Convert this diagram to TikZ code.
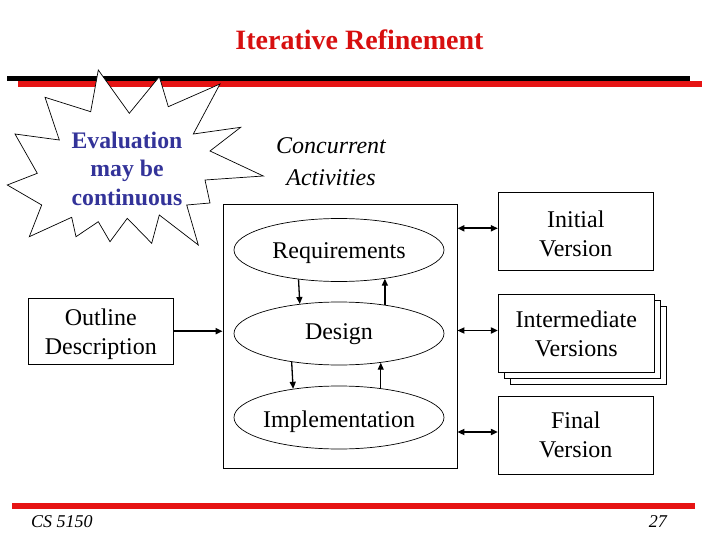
\documentclass[tikz,border=0pt]{standalone}
\usepackage{fontspec}
\setmainfont{Liberation Serif}
\usetikzlibrary{arrows.meta,shapes.geometric}
\definecolor{barred}{RGB}{230,20,20}
\definecolor{titlered}{RGB}{215,15,15}
\definecolor{evalblue}{RGB}{51,51,153}
\begin{document}
\begin{tikzpicture}[x=1pt,y=-1pt,
  txt/.style={font=\fontsize{24}{29}\selectfont, align=center},
  ell/.style={ellipse, draw, line width=0.7pt, minimum width=210pt, minimum height=63pt, inner sep=0pt},
  vbox/.style={draw, line width=0.8pt, fill=white, minimum width=155pt, minimum height=78pt, inner sep=0pt, txt},
  thin arrow/.style={line width=1.3pt, -{Triangle[length=7pt,width=6pt]}},
  thick arrow/.style={line width=1.8pt, {Triangle[length=7pt,width=6pt]}-{Triangle[length=7pt,width=6pt]}}
]
\useasboundingbox (0,0) rectangle (720,540);

% title and bars
\node[font=\fontsize{28}{34}\selectfont\bfseries, text=titlered] (title) at (359.5,40) {Iterative Refinement};
\fill[black] (7,76) rectangle (690,81.5);
\fill[barred] (18,81) rectangle (702,87);
\fill[barred] (12,503) rectangle (695,509);

% starburst
\draw[line width=0.7pt, fill=white] (98.3,70) -- (129.3,113.3) -- (159.3,76.7) -- (168.3,106.7) -- (220,84)
  -- (193.3,134) -- (240.7,127.3) -- (210,151) -- (263.3,176) -- (205,180) -- (210,203)
  -- (186.7,205) -- (198.3,245) -- (159.3,215) -- (151.7,243.3) -- (127.3,218.3) -- (110,241.7)
  -- (98.3,221.7) -- (76,236.7) -- (71.7,217.3) -- (29.3,236.7) -- (41.7,205) -- (7.3,185)
  -- (37.3,173.3) -- (15,134) -- (59.3,140) -- (45,97.3) -- (90.7,111.7) -- cycle;
\node[txt, font=\fontsize{23.7}{28.5}\selectfont\bfseries, text=evalblue] (eval) at (127,168.5) {Evaluation\\may be\\continuous};

% concurrent activities
\node[txt, font=\fontsize{24}{32}\selectfont\itshape] (conc) at (331,162) {Concurrent\\Activities};

% main box and ellipses
\node[draw, line width=0.8pt, minimum width=234pt, minimum height=264pt, inner sep=0pt] (main) at (340,336) {};
\node[ell] (req) at (339,250) {};
\node[ell] (des) at (339,333.5) {};
\node[ell] (imp) at (339,417.5) {};
\node[txt] (reqt) at (339,253) {Requirements};
\node[txt] (dest) at (339,334.5) {Design};
\node[txt] (impt) at (339,421.5) {Implementation};

\draw[thin arrow] (req.216.3) -- (des.143.7);
\draw[thin arrow] (des.32.8) -- (req.-32.8);
\draw[thin arrow] (des.211.8) -- (imp.148.2);
\draw[thin arrow, line width=1pt] (imp.35.8) -- (des.-35.8);

% outline description
\node[draw, line width=0.8pt, minimum width=145pt, minimum height=66pt, inner sep=0pt] (outl) at (100.8,331.2) {};
\node[txt] (outlt) at (100.8,334.5) {Outline\\Description};
\draw[line width=1.8pt, -{Triangle[length=7pt,width=6pt]}] (outl.east) -- (outl.east -| main.west);

% version boxes
\node[vbox] (init) at (575.8,231.3) {};
\node[txt] (initt) at (575.8,233.8) {Initial\\Version};
\node[vbox, minimum width=156pt, minimum height=78.4pt] (inter3) at (588.3,345.5) {};
\node[vbox, minimum width=156pt, minimum height=78.4pt] (inter2) at (582.3,339.5) {};
\node[vbox, minimum width=156pt, minimum height=78.4pt] (inter) at (576.3,333.5) {Intermediate\\Versions};
\node[vbox] (final) at (575.8,435) {Final\\Version};

\draw[thick arrow] ([yshift=3pt]init.west -| main.east) -- ([yshift=3pt]init.west);
\draw[thick arrow] ([yshift=3pt]inter.west -| main.east) -- ([yshift=3pt]inter.west);
\draw[thick arrow] ([yshift=3pt]final.west -| main.east) -- ([yshift=3pt]final.west);

% footer
\node[font=\fontsize{18}{22}\selectfont\itshape, anchor=west, inner sep=0pt] (cs) at (31,522) {CS 5150};
\node[font=\fontsize{18}{22}\selectfont\itshape, anchor=east, inner sep=0pt] (pg) at (667,522) {27};
\end{tikzpicture}
\end{document}
